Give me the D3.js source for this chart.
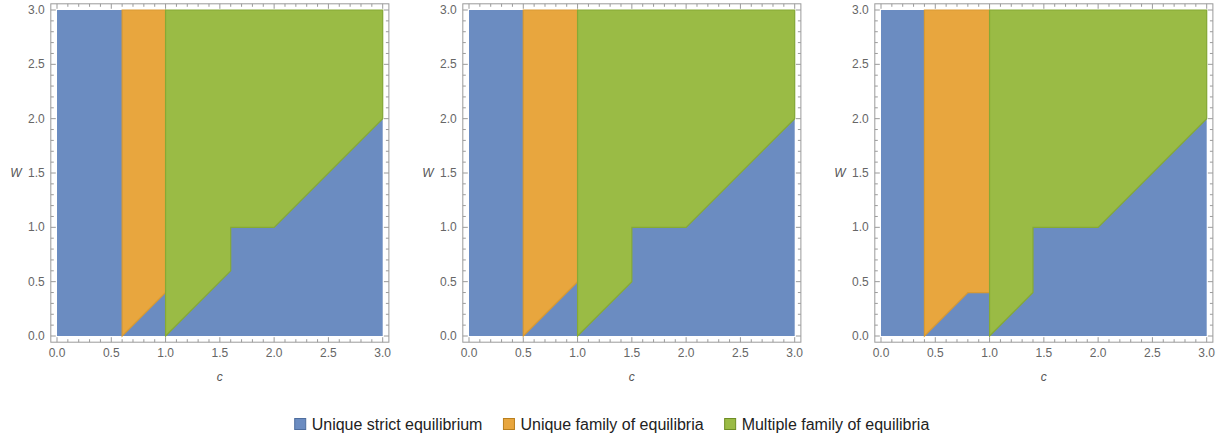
<!DOCTYPE html>
<html>
<head>
<meta charset="utf-8">
<script src="https://cdn.jsdelivr.net/npm/d3@7"></script>
<style>
  html, body { margin: 0; padding: 0; background: #fff; }
  svg { display: block; }
</style>
</head>
<body>
<svg id="chart" width="1224" height="437"></svg>
<script>
// ---------------- data ----------------
const tickValues = [0, 0.5, 1.0, 1.5, 2.0, 2.5, 3.0];
const tickLabels = ["0.0", "0.5", "1.0", "1.5", "2.0", "2.5", "3.0"];
const xLabel = "c";
const yLabel = "W";

const legendLabels = ["Unique strict equilibrium", "Unique family of equilibria", "Multiple family of equilibria"];
const regionColors = ["#6b8cc1", "#e8a63e", "#9abb45"];
const regionStrokes = ["#6b8cc1", "#d99a32", "#86a935"];
const legendStrokes = ["#4e6d9e", "#b97f1d", "#6e8d24"];

// region polygons in (c, W) units, one per panel
const blueRegions = [
  [[0, 0], [3, 0], [3, 3], [0, 3]],
  [[0, 0], [3, 0], [3, 3], [0, 3]],
  [[0, 0], [3, 0], [3, 3], [0, 3]]
];
const orangeRegions = [
  [[0.6, 0], [1.0, 0.4], [1.0, 3], [0.6, 3]],
  [[0.5, 0], [1.0, 0.5], [1.0, 3], [0.5, 3]],
  [[0.4, 0], [0.8, 0.4], [1.0, 0.4], [1.0, 3], [0.4, 3]]
];
const greenRegions = [
  [[1, 0], [1.6, 0.6], [1.6, 1], [2, 1], [3, 2], [3, 3], [1, 3]],
  [[1, 0], [1.5, 0.5], [1.5, 1], [2, 1], [3, 2], [3, 3], [1, 3]],
  [[1, 0], [1.4, 0.4], [1.4, 1], [2, 1], [3, 2], [3, 3], [1, 3]]
];

// ---------------- layout ----------------
const svg = d3.select("#chart");
const panelOffsets = [0, 412, 824];
const dataLeft = 57, dataRight = 382.7, dataTop = 10, dataBottom = 336;
const pad = 0.057;
const frameColor = "#9a9a9a";
const tickTextColor = "#666";
const font = "'Liberation Sans', Arial, Helvetica, sans-serif";

panelOffsets.forEach((off, i) => {
  const x = d3.scaleLinear().domain([0, 3]).range([dataLeft + off, dataRight + off]);
  const y = d3.scaleLinear().domain([0, 3]).range([dataBottom, dataTop]);
  const g = svg.append("g");
  const line = d3.line().x(d => x(d[0])).y(d => y(d[1]));

  const layers = [blueRegions[i], orangeRegions[i], greenRegions[i]];
  layers.forEach((poly, k) => {
    g.append("path")
      .attr("d", line(poly) + "Z")
      .attr("fill", regionColors[k])
      .attr("stroke", k === 0 ? "none" : regionStrokes[k])
      .attr("stroke-width", 1.2)
      .attr("stroke-linejoin", "miter");
  });

  const x0 = x(-pad), x1 = x(3 + pad), y0 = y(-pad), y1 = y(3 + pad);

  // frame
  g.append("rect")
    .attr("x", x0).attr("y", y1)
    .attr("width", x1 - x0).attr("height", y0 - y1)
    .attr("fill", "none").attr("stroke", frameColor).attr("stroke-width", 1);

  const minor = d3.range(0, 31).map(v => v / 10);
  const isMajor = v => Math.abs(v * 2 - Math.round(v * 2)) < 1e-6;

  // ticks on all four sides, pointing inward
  minor.forEach(v => {
    const len = isMajor(v) ? 5 : 3;
    const xv = x(v), yv = y(v);
    g.append("line").attr("x1", xv).attr("x2", xv).attr("y1", y0).attr("y2", y0 - len)
      .attr("stroke", frameColor);
    g.append("line").attr("x1", xv).attr("x2", xv).attr("y1", y1).attr("y2", y1 + len)
      .attr("stroke", frameColor);
    g.append("line").attr("y1", yv).attr("y2", yv).attr("x1", x0).attr("x2", x0 + len)
      .attr("stroke", frameColor);
    g.append("line").attr("y1", yv).attr("y2", yv).attr("x1", x1).attr("x2", x1 - len)
      .attr("stroke", frameColor);
  });

  // tick labels
  tickValues.forEach((v, j) => {
    g.append("text")
      .attr("x", x(v)).attr("y", y0 + 11)
      .attr("text-anchor", "middle").attr("dominant-baseline", "central")
      .attr("font-family", font).attr("font-size", 12).attr("fill", tickTextColor)
      .text(tickLabels[j]);
    g.append("text")
      .attr("x", x0 - 6).attr("y", y(v))
      .attr("text-anchor", "end").attr("dominant-baseline", "central")
      .attr("font-family", font).attr("font-size", 12).attr("fill", tickTextColor)
      .text(tickLabels[j]);
  });

  // axis labels
  g.append("text")
    .attr("x", x(1.5)).attr("y", y0 + 35)
    .attr("text-anchor", "middle").attr("dominant-baseline", "central")
    .attr("font-family", font).attr("font-size", 12).attr("font-style", "italic")
    .attr("fill", "#555").text(xLabel);
  g.append("text")
    .attr("x", x0 - 35).attr("y", y(1.5))
    .attr("text-anchor", "middle").attr("dominant-baseline", "central")
    .attr("font-family", font).attr("font-size", 12).attr("font-style", "italic")
    .attr("fill", "#555").text(yLabel);
});

// ---------------- legend ----------------
const legendFontSize = 16;
const sq = 11, gapSq = 6, gapItem = 21;
const legend = svg.append("g");
const measure = svg.append("text").attr("font-family", font).attr("font-size", legendFontSize);
const widths = legendLabels.map(t => { measure.text(t); return measure.node().getComputedTextLength(); });
measure.remove();
const total = d3.sum(widths) + legendLabels.length * (sq + gapSq) + (legendLabels.length - 1) * gapItem;
let lx = 612 - total / 2;
const ly = 424;
legendLabels.forEach((t, k) => {
  legend.append("rect")
    .attr("x", lx).attr("y", ly - sq / 2).attr("width", sq).attr("height", sq)
    .attr("fill", regionColors[k]).attr("stroke", legendStrokes[k]).attr("stroke-width", 1);
  legend.append("text")
    .attr("x", lx + sq + gapSq).attr("y", ly)
    .attr("dominant-baseline", "central")
    .attr("font-family", font).attr("font-size", legendFontSize).attr("fill", "#222")
    .text(t);
  lx += sq + gapSq + widths[k] + gapItem;
});
</script>
</body>
</html>
